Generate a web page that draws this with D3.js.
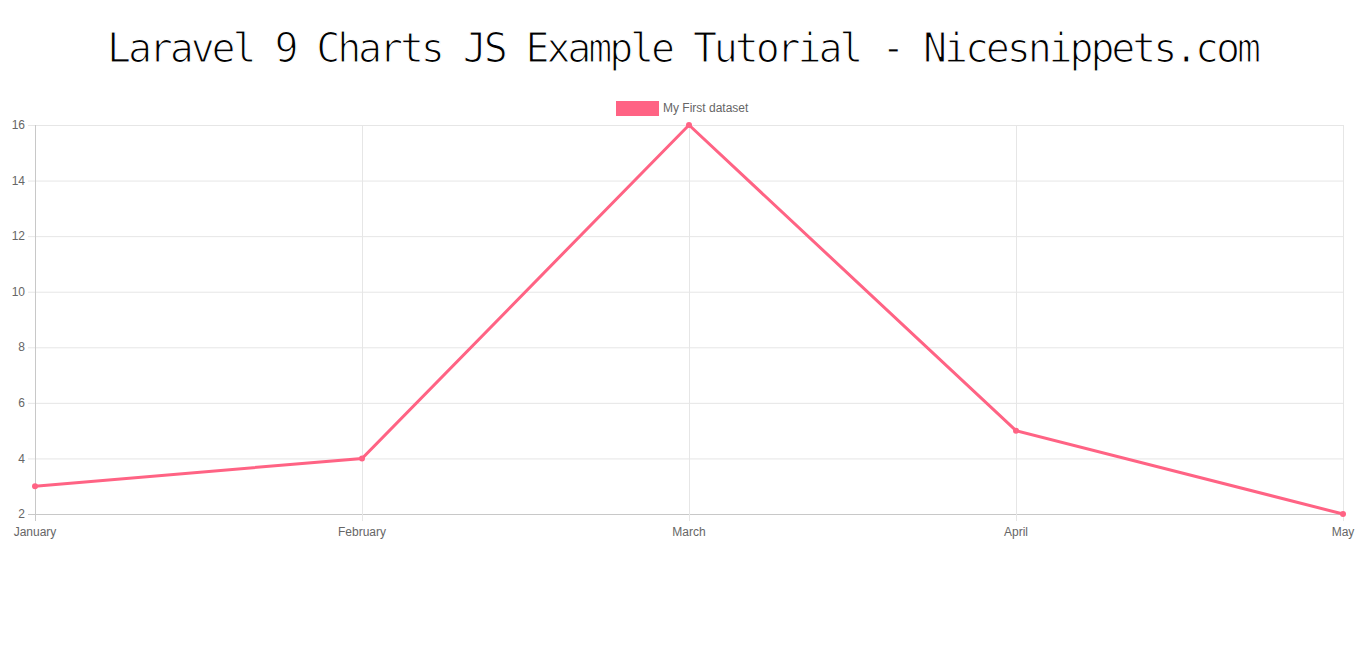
<!DOCTYPE html>
<html>
<head>
<meta charset="utf-8">
<script src="https://cdn.jsdelivr.net/npm/d3@7"></script>
<style>
  html, body { margin: 0; padding: 0; background: #fff; }
  svg { display: block; }
</style>
</head>
<body>
<svg id="chart" width="1366" height="663"></svg>
<script>
const titleText = "Laravel 9 Charts JS Example Tutorial - Nicesnippets.com";
const seriesName = "My First dataset";
const categories = ["January", "February", "March", "April", "May"];
const values = [3, 4, 16, 5, 2];
const yTicks = [2, 4, 6, 8, 10, 12, 14, 16];

const svg = d3.select("#chart");
const m = { left: 35, right: 1343, top: 125, bottom: 514 };
const color = "rgb(255,99,132)";
const font = "'Liberation Sans', Arial, sans-serif";

svg.append("text")
  .attr("x", 107).attr("y", 62)
  .attr("font-family", "'DejaVu Sans Mono', monospace")
  .attr("font-size", 40)
  .attr("textLength", 1154)
  .attr("lengthAdjust", "spacing")
  .attr("fill", "#000")
  .attr("stroke", "#fff").attr("stroke-width", 1.2)
  .style("paint-order", "fill")
  .text(titleText);

const x = d3.scalePoint().domain(categories).range([m.left, m.right]);
const y = d3.scaleLinear().domain([2, 16]).range([m.bottom, m.top]);

const g = svg.append("g");
g.selectAll(".hg").data(yTicks).join("line")
  .attr("x1", m.left - 7).attr("x2", m.right)
  .attr("y1", d => y(d) + 0.5).attr("y2", d => y(d) + 0.5)
  .attr("stroke", d => d === 2 ? "#c8c8c8" : "#e6e6e6").attr("stroke-width", 1);
g.selectAll(".vg").data(categories).join("line")
  .attr("x1", d => x(d) + 0.5).attr("x2", d => x(d) + 0.5)
  .attr("y1", m.top).attr("y2", m.bottom + 7)
  .attr("stroke", (d, i) => i === 0 ? "#c8c8c8" : "#e6e6e6").attr("stroke-width", 1);

g.selectAll(".yl").data(yTicks).join("text")
  .attr("x", m.left - 10).attr("y", d => y(d))
  .attr("dy", "0.35em")
  .attr("text-anchor", "end")
  .attr("font-family", font).attr("font-size", 12).attr("fill", "#666")
  .text(d => d);

g.selectAll(".xl").data(categories).join("text")
  .attr("x", d => x(d)).attr("y", m.bottom + 18)
  .attr("dy", "0.35em")
  .attr("text-anchor", "middle")
  .attr("font-family", font).attr("font-size", 12).attr("fill", "#666")
  .text(d => d);

const line = d3.line().x((d, i) => x(categories[i])).y(d => y(d));
svg.append("path").datum(values)
  .attr("d", line)
  .attr("fill", "none").attr("stroke", color).attr("stroke-width", 3)
  .attr("stroke-linejoin", "miter");

svg.selectAll(".pt").data(values).join("circle")
  .attr("cx", (d, i) => x(categories[i])).attr("cy", d => y(d))
  .attr("r", 3).attr("fill", color);

const lg = svg.append("g");
lg.append("rect").attr("x", 617.5).attr("y", 102.5).attr("width", 40).attr("height", 12)
  .attr("fill", color).attr("stroke", color).attr("stroke-width", 3);
lg.append("text").attr("x", 663).attr("y", 107.5).attr("dy", "0.35em")
  .attr("font-family", font).attr("font-size", 12).attr("fill", "#666")
  .text(seriesName);
</script>
</body>
</html>
